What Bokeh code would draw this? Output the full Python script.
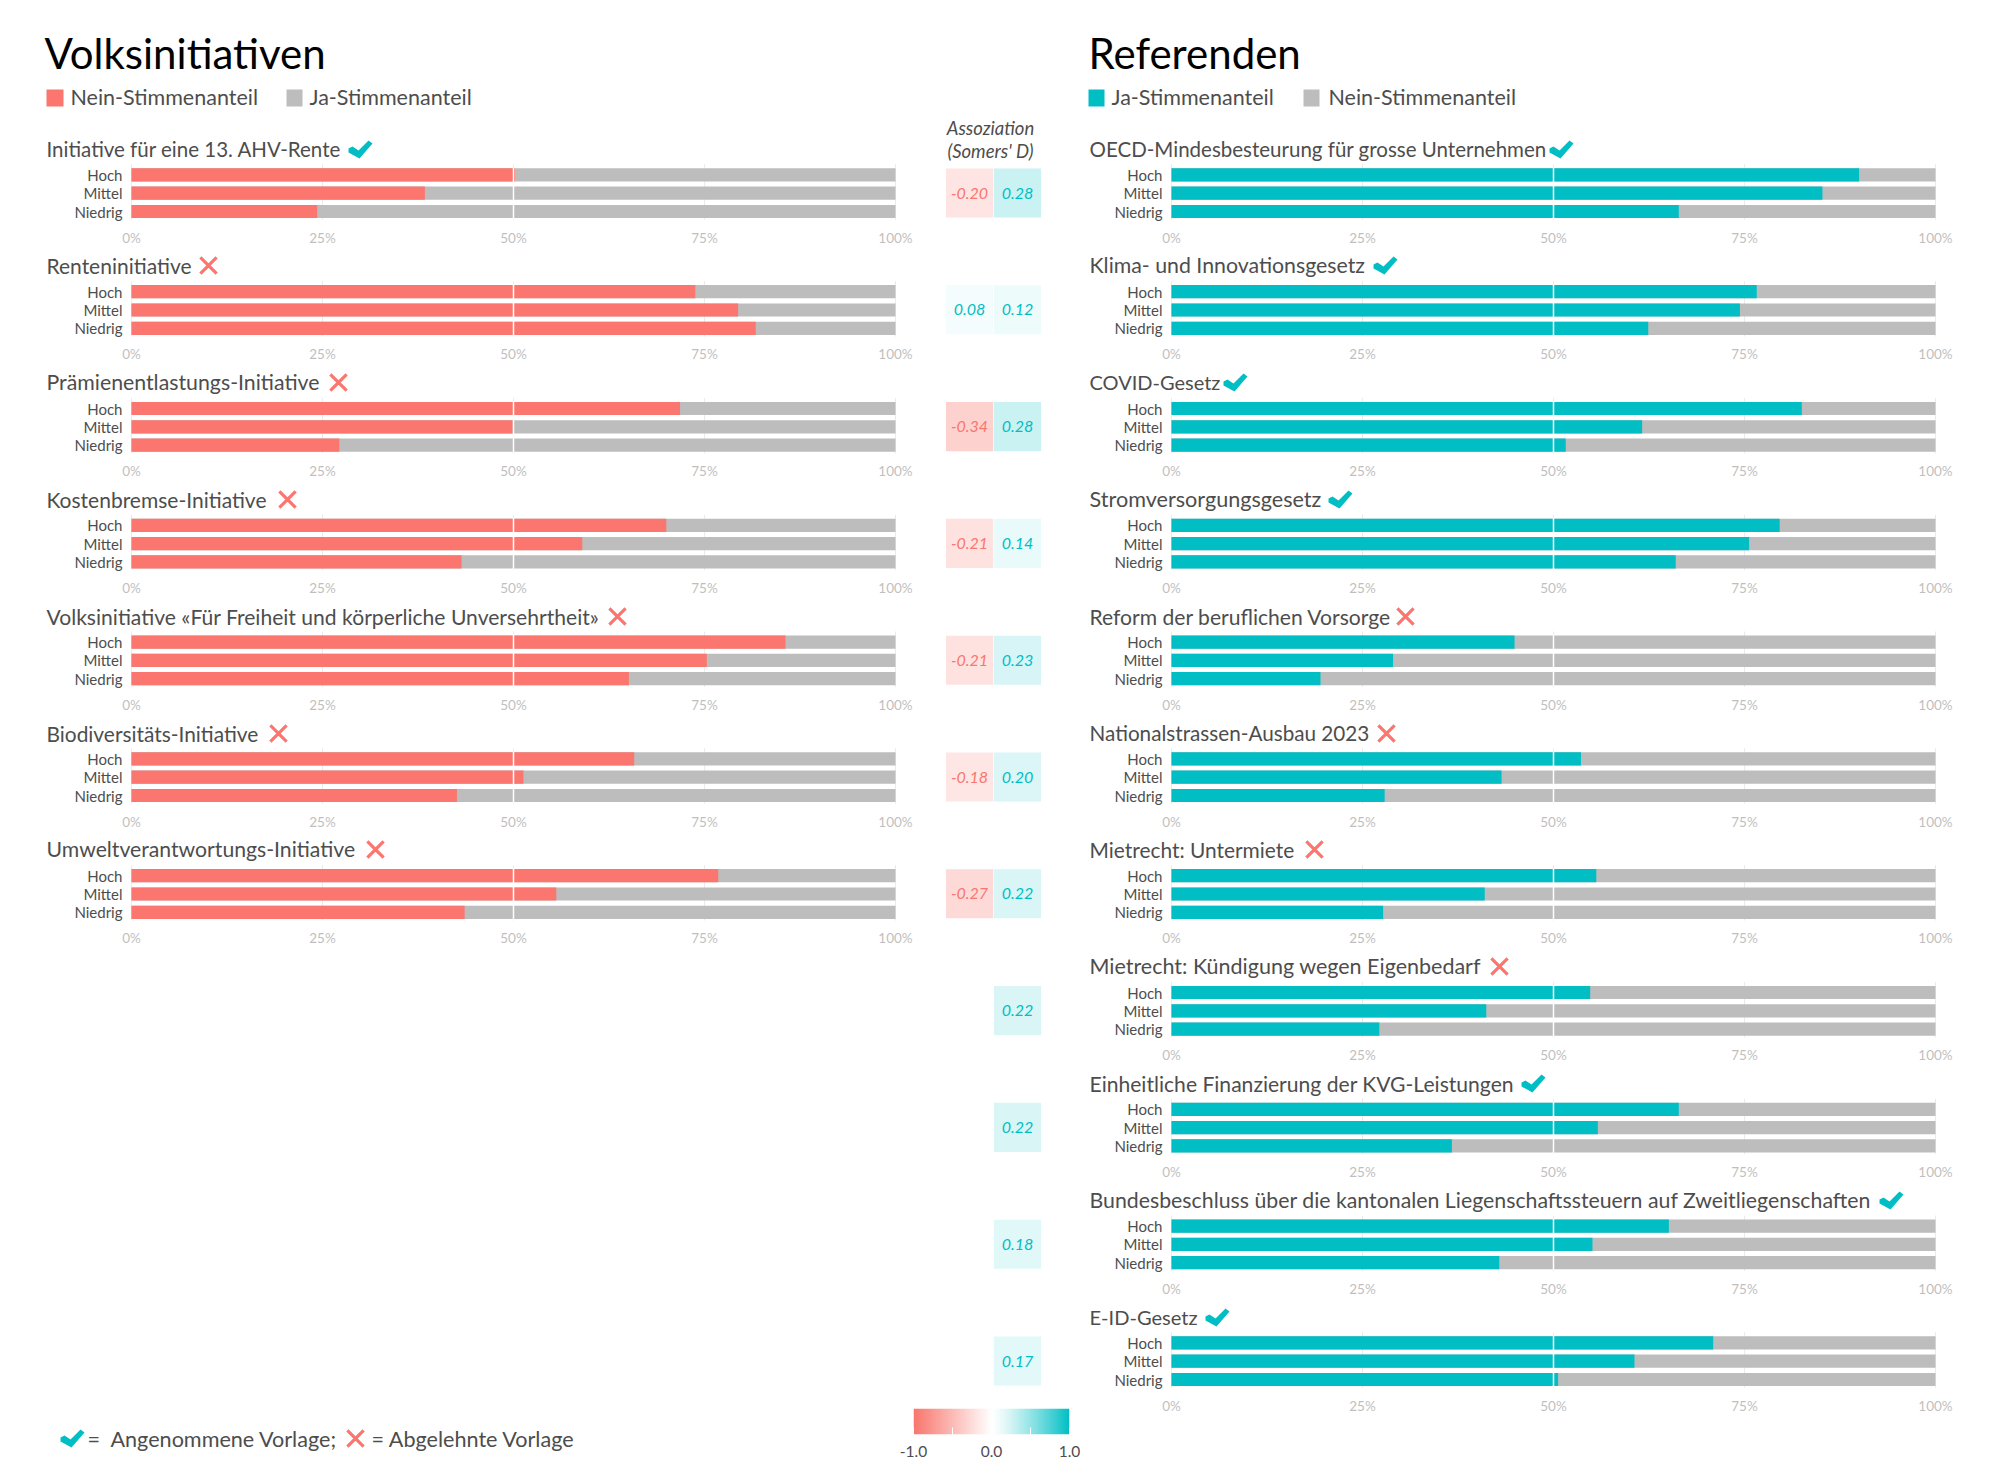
from bokeh.plotting import figure
from bokeh.layouts import row, column
from bokeh.models import Range1d, FactorRange, FixedTicker, Label, LinearColorMapper, ColumnDataSource, Spacer
from bokeh.embed import file_html
from bokeh.resources import INLINE
import numpy as np

FONT = "Lato"
RED = "#FA766E"
TEAL = "#00BEC4"
GREY = "#BDBDBD"
TXT = "#4D4D4D"

levels = ["Hoch", "Mittel", "Niedrig"]

init_titles = ["Initiative für eine 13. AHV-Rente", "Renteninitiative", "Prämienentlastungs-Initiative",
               "Kostenbremse-Initiative", "Volksinitiative «Für Freiheit und körperliche Unversehrtheit»",
               "Biodiversitäts-Initiative", "Umweltverantwortungs-Initiative"]
init_hoch = [50.2, 73.8, 71.8, 70.0, 85.6, 65.8, 76.8]
init_mittel = [38.4, 79.4, 49.9, 59.0, 75.3, 51.3, 55.6]
init_niedrig = [24.3, 81.7, 27.2, 43.2, 65.1, 42.6, 43.6]
init_result = ["yes", "no", "no", "no", "no", "no", "no"]
init_assoc = [-0.20, 0.08, -0.34, -0.21, -0.21, -0.18, -0.27]

ref_titles = ["OECD-Mindesbesteurung für grosse Unternehmen", "Klima- und Innovationsgesetz", "COVID-Gesetz",
              "Stromversorgungsgesetz", "Reform der beruflichen Vorsorge", "Nationalstrassen-Ausbau 2023",
              "Mietrecht: Untermiete", "Mietrecht: Kündigung wegen Eigenbedarf",
              "Einheitliche Finanzierung der KVG-Leistungen",
              "Bundesbeschluss über die kantonalen Liegenschaftssteuern auf Zweitliegenschaften", "E-ID-Gesetz"]
ref_hoch = [90.0, 76.6, 82.5, 79.6, 44.9, 53.6, 55.6, 54.8, 66.4, 65.1, 70.9]
ref_mittel = [85.2, 74.4, 61.6, 75.6, 29.0, 43.2, 41.0, 41.2, 55.8, 55.1, 60.6]
ref_niedrig = [66.4, 62.4, 51.6, 66.0, 19.5, 27.9, 27.7, 27.2, 36.7, 42.9, 50.6]
ref_result = ["yes", "yes", "yes", "yes", "no", "no", "no", "no", "yes", "yes", "yes"]
ref_assoc = [0.28, 0.12, 0.28, 0.14, 0.23, 0.20, 0.22, 0.22, 0.22, 0.18, 0.17]

pct_ticks = [0, 25, 50, 75, 100]
pct_labels = ["0%", "25%", "50%", "75%", "100%"]

# layout geometry (page pixels)
init_mark_px = [360, 208, 338, 287, 617, 278, 375]
ref_mark_px = [1561, 1385, 1235, 1340, 1405, 1386, 1314, 1499, 1533, 1891, 1217]
init_title_px = [20.5, 21, 21.3, 21, 21.1, 20.9, 21.2]
ref_title_px = [20.5, 21.3, 20, 21.6, 21.1, 20.7, 20.9, 21.5, 21.1, 21.3, 20.1]
ROW0 = 133.5
STEP = 116.8
BAR_STEP = 18.3
FRAME_W = 764
FRAME_H = 92


def top_of(i):
    return int(round(ROW0 + STEP * i))


CHECK = [(-12, -1), (-12, 3), (-1, 9), (12, -6), (8, -9), (-2, 1), (-8, -3)]


def bare(p):
    p.axis.visible = False
    p.xgrid.visible = False
    p.ygrid.visible = False
    p.outline_line_color = None
    p.min_border = 0
    return p


def panel(i, title, vals, result, main_col, frame_left_page, fig_left_page, fig_w, mark_px, title_px, title_size):
    T = top_of(i)
    H = top_of(i + 1) - T
    c = ROW0 + STEP * i + 40.9
    end = 2 + (c - T) / BAR_STEP
    start = 2 - (T + FRAME_H - c) / BAR_STEP
    to_x = lambda px: (px - frame_left_page) * 100.0 / FRAME_W
    to_y = lambda off: 2 - (T + off - c) / BAR_STEP
    p = figure(width=fig_w, height=H, x_range=Range1d(to_x(fig_left_page), to_x(fig_left_page + fig_w)),
               y_range=Range1d(start, end), output_backend="svg", toolbar_location=None, frame_align=False,
               min_border_left=0, min_border_right=0, min_border_top=0, min_border_bottom=H - FRAME_H)
    p.outline_line_color = None
    p.xgrid.visible = False
    p.ygrid.visible = False
    ys = [2, 1, 0]
    src = ColumnDataSource(dict(y=ys, v=vals, full=[100, 100, 100], lev=levels))
    p.segment(x0=pct_ticks, x1=pct_ticks, y0=[2.58] * 5, y1=[-0.45] * 5, line_color="#EBEBEB", line_width=1)
    p.hbar(y="y", left=0, right="full", height=0.72, fill_color=GREY, line_color=None, source=src)
    p.hbar(y="y", left=0, right="v", height=0.72, fill_color=main_col, line_color=None, source=src)
    p.segment(x0=[50], x1=[50], y0=[2.4], y1=[-0.4], line_color="white", line_width=1.5)

    ax = p.xaxis[0]
    ax.ticker = FixedTicker(ticks=pct_ticks)
    ax.major_label_overrides = dict(zip(pct_ticks, pct_labels))
    ax.major_label_text_font = FONT
    ax.major_label_text_font_size = "13.5px"
    ax.major_label_text_color = "#BFBFBF"
    ax.major_label_standoff = 3
    ax.axis_line_color = None
    ax.major_tick_line_color = None
    ax.major_tick_out = 0
    ax.major_tick_in = 0
    ax.minor_tick_line_color = None

    ay = p.yaxis[0]
    ay.fixed_location = 0
    ay.ticker = FixedTicker(ticks=ys)
    ay.major_label_overrides = dict(zip(ys, levels))
    ay.major_label_text_font = FONT
    ay.major_label_text_font_size = "15px"
    ay.major_label_text_color = TXT
    ay.major_label_standoff = 9
    ay.axis_line_color = None
    ay.major_tick_line_color = None
    ay.major_tick_out = 0
    ay.major_tick_in = 0
    ay.minor_tick_line_color = None

    p.add_layout(Label(x=to_x(title_px), y=to_y(14.7), text=title, text_font=FONT, text_font_size=f"{title_size}px",
                       text_color=TXT, text_baseline="middle", text_align="left"))
    mx = to_x(mark_px)
    my = to_y(15)
    if result == "yes":
        p.patch([mx + a * 100.0 / FRAME_W for a, b in CHECK], [my - b / BAR_STEP for a, b in CHECK],
                fill_color=TEAL, line_color=None)
    else:
        p.scatter([mx], [my], marker="x", size=23, line_color=RED, line_width=3.2)
    return p


def header(width, x0, title, items):
    p = figure(width=width, height=top_of(0) - 8, x_range=Range1d(x0, x0 + width), y_range=Range1d(top_of(0), 8),
               output_backend="svg", toolbar_location=None, frame_align=False)
    bare(p)
    tx, name = title
    p.add_layout(Label(x=tx, y=52.5, text=name, text_font=FONT, text_font_size="42px", text_color="black",
                       text_baseline="middle"))
    for sx0, sx1, col, lx, lab in items:
        p.quad(left=[sx0], right=[sx1], top=[89], bottom=[106], fill_color=col, line_color=None)
        p.add_layout(Label(x=lx, y=96.5, text=lab, text_font=FONT, text_font_size="21.5px", text_color=TXT,
                           text_baseline="middle"))
    return p


# ---- left column
left_w = 905
left_col = [header(left_w, 8, (44, "Volksinitiativen"),
                   [(46, 63, RED, 70, "Nein-Stimmenanteil"), (286, 302, GREY, 309, "Ja-Stimmenanteil")])]
for i, t in enumerate(init_titles):
    left_col.append(panel(i, t, [init_hoch[i], init_mittel[i], init_niedrig[i]], init_result[i], RED,
                          131, 8, left_w, init_mark_px[i], 46, init_title_px[i]))
left_block = column(*left_col)

# ---- association heat strip
ramp_vals = np.linspace(-1, 1, 255)
def mix(t):
    if t < 0:
        end, a = (0xF8, 0x76, 0x6D), abs(t)
    else:
        end, a = (0x00, 0xBF, 0xC4), t ** 1.26
    return "#%02X%02X%02X" % tuple(int(round(255 + (e - 255) * a)) for e in end)
ramp = [mix(t) for t in ramp_vals]
mapper = LinearColorMapper(palette=ramp, low=-1, high=1)

columns_names = ["Volksinitiativen", "Referenden"]
AS_TOP, AS_BOT = 8, 1400
row_y = lambda px: (px - 192.5) / STEP
as_fig = figure(width=167, height=AS_BOT - AS_TOP, x_range=FactorRange(factors=columns_names, range_padding=0, factor_padding=0),
                y_range=Range1d(row_y(AS_BOT), row_y(AS_TOP)), output_backend="svg", toolbar_location=None,
                frame_align=False)
bare(as_fig)
as_fig.min_border_left = 32
as_fig.min_border_right = 39

xs, ys_, vs = [], [], []
for i, v in enumerate(init_assoc):
    xs.append(columns_names[0]); ys_.append(i); vs.append(v)
for i, v in enumerate(ref_assoc):
    xs.append(columns_names[1]); ys_.append(i); vs.append(v)
as_src = ColumnDataSource(dict(x=xs, y=ys_, v=vs, lab=["%.2f" % v for v in vs],
                               tc=[RED if v < 0 else TEAL for v in vs]))
as_fig.rect(x="x", y="y", width=0.985, height=0.42, source=as_src, line_color=None,
            fill_color={"field": "v", "transform": mapper})
as_fig.text(x="x", y="y", text="lab", source=as_src, text_color="tc", text_align="center", text_baseline="middle",
            text_font_size="16px", text_font_style="italic", text_font={"value": FONT})
for txt, py in [("Assoziation", 127.3), ("(Somers' D)", 150.8)]:
    as_fig.add_layout(Label(x=45, y=row_y(py), x_units="screen", text=txt, text_font=FONT, text_font_style="italic",
                            text_font_size="18.5px", text_color=TXT, text_align="center", text_baseline="middle"))

# ---- footer: marks legend
foot_legend = figure(width=887, height=70, x_range=Range1d(8, 895), y_range=Range1d(1470, 1400),
                     output_backend="svg", toolbar_location=None, frame_align=False)
bare(foot_legend)
foot_legend.patch([72 + a for a, b in CHECK], [1438 + b for a, b in CHECK], fill_color=TEAL, line_color=None)
foot_legend.scatter([355], [1438], marker="x", size=23, line_color=RED, line_width=3.2)
for x, t in [(87, "="), (110, "Angenommene Vorlage;"), (371, "= Abgelehnte Vorlage")]:
    foot_legend.add_layout(Label(x=x, y=1438.5, text=t, text_font=FONT, text_font_size="21.6px", text_color=TXT,
                                 text_baseline="middle"))

# ---- footer: colour scale
scale_ticks = [-1, -0.5, 0, 0.5, 1]
scale_labels = ["-1.0", "", "0.0", "", "1.0"]
bar = figure(width=185, height=70, x_range=Range1d(-1, 1), y_range=Range1d(0, 1), output_backend="svg",
             toolbar_location=None, min_border_left=18, min_border_right=11, min_border_top=8, min_border_bottom=36,
             frame_align=False)
bar.outline_line_color = None
bar.xgrid.visible = False
bar.ygrid.visible = False
bar.yaxis.visible = False
bar.image(image=[ramp_vals.reshape(1, -1)], x=-1, y=0, dw=2, dh=1, color_mapper=mapper)
bx = bar.xaxis[0]
bx.ticker = FixedTicker(ticks=scale_ticks)
bx.major_label_overrides = dict(zip(scale_ticks, scale_labels))
bx.major_label_text_font = FONT
bx.major_label_text_font_size = "15.5px"
bx.major_label_text_color = TXT
bx.major_label_standoff = 11
bx.axis_line_color = None
bx.major_tick_line_color = "white"
bx.major_tick_in = 7
bx.major_tick_out = 0
bx.minor_tick_line_color = None

# ---- right column
right_w = 912
right_col = [header(right_w, 1080, (1088, "Referenden"),
                    [(1088, 1104, TEAL, 1111, "Ja-Stimmenanteil"), (1303, 1319, GREY, 1328, "Nein-Stimmenanteil")])]
for i, t in enumerate(ref_titles):
    right_col.append(panel(i, t, [ref_hoch[i], ref_mittel[i], ref_niedrig[i]], ref_result[i], TEAL,
                           1171, 1080, right_w, ref_mark_px[i], 1089, ref_title_px[i]))

body = row(column(row(left_block, as_fig), row(foot_legend, bar)), column(*right_col))
page = column(Spacer(height=8), row(Spacer(width=8), body))
open("out.html", "w").write(file_html(page, INLINE))
